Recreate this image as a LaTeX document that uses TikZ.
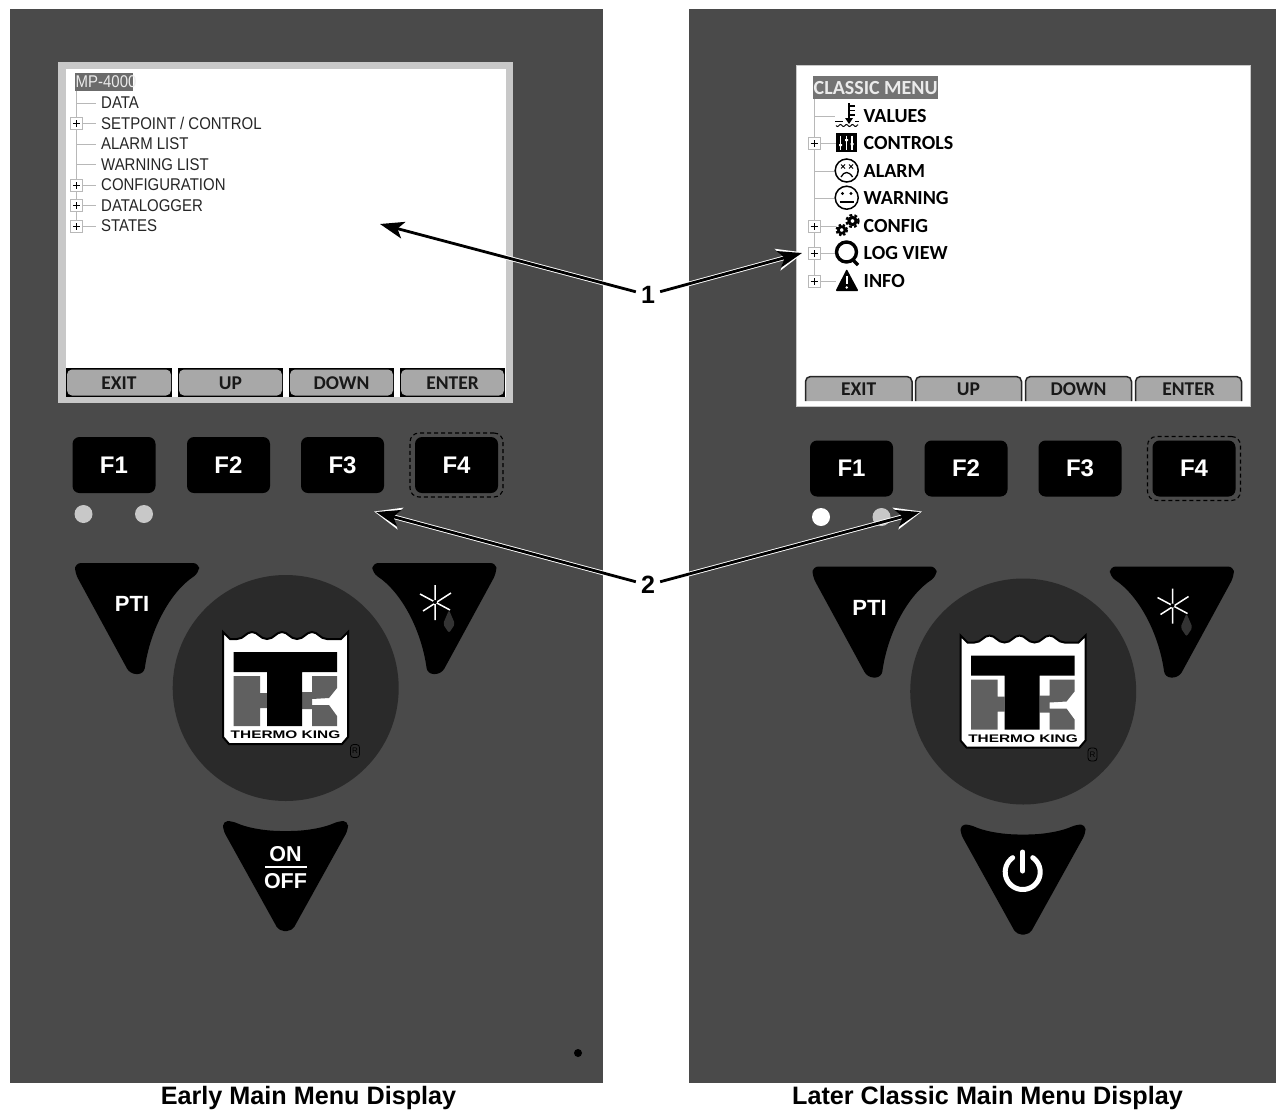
\documentclass[tikz,border=0pt]{standalone}
\usepackage{fontspec}
\setmainfont{Liberation Sans}
\newfontfamily\lcdfont[FakeStretch=0.88]{Liberation Sans}
\newfontfamily\menufont{Carlito}
\newfontfamily\logofont[FakeStretch=1.4]{Liberation Sans}
\usetikzlibrary{calc,arrows.meta}
\definecolor{panelgray}{HTML}{4A4A4A}
\definecolor{hubgray}{HTML}{2A2A2A}
\definecolor{framegray}{HTML}{C8C8C8}
\definecolor{softgray}{HTML}{A8A8A8}
\definecolor{treegray}{HTML}{B8B8B8}
\definecolor{logogray}{HTML}{606060}

\tikzset{
  fkey/.style={fill=black,text=white,rounded corners=7pt,minimum width=83pt,minimum height=56pt,inner sep=0pt,font=\bfseries\fontsize{24}{24}\selectfont},
  keytxt/.style={text=white,inner sep=0pt,font=\bfseries\fontsize{22}{22}\selectfont},
  lcdtxt/.style={anchor=west,inner sep=0pt,text=black!85,font=\lcdfont\fontsize{17}{17}\selectfont},
  menutxt/.style={anchor=west,inner sep=0pt,text=black,font=\menufont\bfseries\fontsize{20}{20}\selectfont},
  softtxt/.style={inner sep=0pt,text=black!90,font=\menufont\bfseries\fontsize{19.5}{19.5}\selectfont},
  plusbox/.style={draw=treegray,fill=white,line width=1pt,minimum size=12pt,inner sep=0pt,
    path picture={\draw[black,line width=.7pt] ($(path picture bounding box.center)+(-3.5pt,0)$) -- ($(path picture bounding box.center)+(3.5pt,0)$) ($(path picture bounding box.center)+(0,-3.5pt)$) -- ($(path picture bounding box.center)+(0,3.5pt)$);}},
  treeline/.style={treegray,line width=1pt},
  halo/.style={white,line width=4.6pt,-{Stealth[length=27pt,width=22pt,inset=7pt]},shorten >=-2pt},
  leader/.style={black,line width=2.8pt,-{Stealth[length=24pt,width=17pt,inset=6pt]}},
  numtxt/.style={inner sep=5pt,font=\bfseries\fontsize{25}{25}\selectfont},
  captiontxt/.style={inner sep=0pt,font=\bfseries\fontsize{25.2}{25.2}\selectfont}
}

\begin{document}
\begin{tikzpicture}[>=Stealth,x=1pt,y=-1pt]
  \useasboundingbox (0,0) rectangle (1276,1109);

  % Wedge key, PTI position
  \def\WedgeKey{\fill[black,rounded corners=6pt] (75,563) -- (199,563) -- (199,573) .. controls (170,592) and (150,630) .. (144,674) -- (130,674) -- (75,573) -- cycle;}

  % Keys and logo, drawn at the left panel's place
  \def\KeyPad#1{
    \node[fkey] (#1F1) at (114,465) {F1};
    \node[fkey] (#1F2) at (228.5,465) {F2};
    \node[fkey] (#1F3) at (342.5,465) {F3};
    \node[fkey] (#1F4) at (456.5,465) {F4};
    \node[draw=black,dash pattern=on 4pt off 3pt,rounded corners=9pt,line width=1.1pt,minimum width=93pt,minimum height=64pt] (#1F4box) at (456.5,465) {};
    % Hub and wedges
    \fill[hubgray] (285.7,688) circle[radius=113];
    \WedgeKey
    \begin{scope}[shift={(571.4,0)},xscale=-1]
      \WedgeKey
    \end{scope}
    \fill[black,rounded corners=5pt] (223,821) -- (232,821) .. controls (250,829) and (270,831) .. (285.5,831) .. controls (301,831) and (321,829) .. (339,821) -- (348,821) -- (348,830) -- (292,931) -- (279,931) -- (223,830) -- cycle;
    \node[keytxt] (#1PTI) at (132,604) {PTI};
    % Star and drop
    \draw[white,line width=1.5pt] (435,585) -- (435,620) (420,594) -- (450,610) (423,611) -- (451,593);
    \fill[black] (435,602) circle[radius=2];
    \fill[black!80,rounded corners=2pt] (449,610) -- (455,624) -- (449,633) -- (443,624) -- cycle;
    % Logo
    \draw[black,fill=white,line width=2pt] (223,632) -- (230,639) -- (237,639) .. controls (244,639) and (246,632) .. (252,632) .. controls (258,632) and (260,639) .. (267,639) .. controls (274,639) and (276,632) .. (282,632) .. controls (288,632) and (290,639) .. (297,639) .. controls (304,639) and (306,632) .. (312,632) .. controls (318,632) and (320,639) .. (327,639) -- (341,639) -- (348,632) -- (348,737) -- (342,744) -- (229,744) -- (223,737) -- cycle;
    \fill[logogray] (233.5,676) rectangle (260,726) (260,693) rectangle (267,708);
    \fill[logogray] (312,676) -- (337,676) -- (337,688) -- (329,698) -- (312,699) -- (312,705) -- (329,705) -- (337,716) -- (337,726) -- (312,726) -- (312,709) -- (302,709) -- (302,692) -- (312,692) -- cycle;
    \fill[black] (233.5,652) rectangle (337,672) (267,672) rectangle (302,726);
    \node[inner sep=0pt,font=\logofont\bfseries\fontsize{11}{11}\selectfont] (#1brand) at (285.5,735) {THERMO KING};
    \node[draw=black,rounded corners=3pt,line width=.8pt,inner sep=1pt,minimum width=9pt,minimum height=13pt,font=\fontsize{8}{8}\selectfont,text=black] (#1reg) at (355,751) {R};
  }

  % Panels
  \fill[panelgray] (10,9) rectangle (603,1083);
  \fill[panelgray] (689,9) rectangle (1276,1083);
  \fill[black] (578,1053) circle[radius=4];

  % Left panel
  \KeyPad{a}
  \fill[framegray] (83.5,514) circle[radius=9];
  \fill[framegray] (144,514) circle[radius=9];
  \node[keytxt,font=\bfseries\fontsize{21.5}{21.5}\selectfont] (aon) at (285.5,854) {ON};
  \node[keytxt,font=\bfseries\fontsize{21.5}{21.5}\selectfont] (aoff) at (285.5,881) {OFF};
  \draw[white,line width=2pt] (265,867) -- (307,867);

  % Left screen
  \fill[framegray] (58,62) rectangle (513,403);
  \fill[white] (66,69) rectangle (505.5,397);
  \draw[treeline] (76.7,91) -- (76.7,226);
  \node[fill=black!58,inner sep=0pt,minimum width=58pt,minimum height=18pt] (atop) at (104,82) {};
  \node[lcdtxt,text=black!8] (atoptxt) at (75.5,82) {MP-4000};
  \foreach \txt/\yy [count=\i] in {DATA/103,{SETPOINT / CONTROL}/123.5,ALARM LIST/144,WARNING LIST/164.5,CONFIGURATION/185,DATALOGGER/205.5,STATES/226} {
    \draw[treeline] (76.7,\yy) -- (96,\yy);
    \node[lcdtxt] (arow\i) at (101,\yy) {\txt};
  }
  \foreach \yy [count=\i] in {123.5,185,205.5,226} {
    \node[plusbox] (abox\i) at (76.7,\yy) {};
  }
  \foreach \txt/\xa/\xb [count=\i] in {EXIT/66/172,UP/178/283,DOWN/289/394,ENTER/400/505} {
    \fill[black] (\xa,368) rectangle (\xb,397);
    \fill[softgray,rounded corners=5pt] ({\xa+1},369.5) rectangle ({\xb-1},395.5);
    \node[softtxt] (asoft\i) at ({(\xa+\xb)/2},383) {\txt};
  }

  % Right panel
  \begin{scope}[shift={(737.5,3.5)}]
    \KeyPad{b}
  \end{scope}
  \fill[white] (821,517) circle[radius=9];
  \fill[framegray] (881.5,517) circle[radius=9];
  \draw[white,line width=5pt,line cap=round] plot[domain=35:325,samples=40] ({1022.7+17.5*sin(\x)},{872-17.5*cos(\x)});
  \draw[white,line width=5pt,line cap=round] (1022.7,852) -- (1022.7,871);

  % Right screen
  \draw[framegray,fill=white,line width=1pt] (796,65) rectangle (1250,406);
  \draw[treeline] (814,99) -- (814,281);
  \node[fill=black!55,inner sep=0pt,minimum width=125pt,minimum height=23pt] (btop) at (875.5,87.5) {};
  \node[menutxt,text=black!8] (btoptxt) at (813.5,88) {CLASSIC MENU};
  \foreach \txt/\yy [count=\i] in {VALUES/116,CONTROLS/143.5,ALARM/171,WARNING/198.5,CONFIG/226,LOG VIEW/253.5,INFO/281} {
    \draw[treeline] (814,\yy) -- (836,\yy);
    \node[menutxt] (brow\i) at (863.5,\yy) {\txt};
  }
  \foreach \yy [count=\i] in {143.5,226,253.5,281} {
    \node[plusbox] (bbox\i) at (814,\yy) {};
  }
  \foreach \txt/\xa/\xb [count=\i] in {EXIT/805.5/912,UP/915.5/1021.5,DOWN/1025.5/1131.5,ENTER/1135.5/1241.5} {
    \draw[black!85,fill=softgray,line width=1.5pt,rounded corners=5pt] (\xa,401) -- (\xa,376.5) -- (\xb,376.5) -- (\xb,401);
    \node[softtxt] (bsoft\i) at ({(\xa+\xb)/2},389) {\txt};
  }

  % Menu icons
  % values
  \fill[white] (835,103) rectangle (859,128);
  \draw[black,line width=2.4pt] (849,103) -- (849,120);
  \draw[black,line width=1.2pt] (849,106) -- (855,106) (849,110.5) -- (855,110.5) (849,115) -- (855,115);
  \fill[black] (845,118) -- (853,118) -- (849,124) -- cycle;
  \draw[black,line width=1pt] (835,121.5) -- (843,121.5) (855,121.5) -- (859,121.5);
  \draw[black,line width=1pt] plot[domain=0:22,samples=30] ({836+\x},{125.5+sin(\x*60)});
  % controls
  \fill[black] (835.5,133) rectangle (857,152);
  \draw[white,line width=1.3pt] (840.5,135.5) -- (840.5,149.5) (846.5,135.5) -- (846.5,149.5) (852,135.5) -- (852,149.5);
  \fill[white] (839,144) rectangle (842,146) (845,139) rectangle (848,141) (850.5,143) rectangle (853.5,145);
  % alarm
  \draw[black,fill=white,line width=1.5pt] (846.7,170.5) circle[radius=11.5];
  \draw[black,line width=.9pt] (841,164.5) -- (845,168.5) (845,164.5) -- (841,168.5) (849,164.5) -- (853,168.5) (853,164.5) -- (849,168.5);
  \draw[black,line width=1.3pt] (841,177) .. controls (844,171) and (849,171) .. (852.5,177);
  % warning
  \draw[black,fill=white,line width=1.5pt] (846.7,197.7) circle[radius=11.5];
  \fill[black] (842.5,193.5) circle[radius=1.7] (851,193.5) circle[radius=1.7];
  \draw[black,line width=1.7pt] (839.5,202) -- (854,202);
  % config
  \draw[black,line width=2pt,dash pattern=on 2.4pt off 2pt] (841.7,230) circle[radius=5.5];
  \draw[black,fill=white,line width=2.6pt] (841.7,230) circle[radius=3.3];
  \draw[black,line width=2.2pt,dash pattern=on 2.8pt off 2.2pt] (852.5,221) circle[radius=6];
  \draw[black,fill=white,line width=3pt] (852.5,221) circle[radius=3.6];
  % log view
  \draw[black,fill=white,line width=3.4pt] (846.5,252) circle[radius=10];
  \draw[black,line width=3.4pt] (853,260) -- (858,265);
  % info
  \fill[black,rounded corners=1pt] (846.7,269) -- (858.5,291) -- (835.5,291) -- cycle;
  \draw[white,line width=2pt] (846.7,276) -- (846.7,284);
  \fill[white] (846.7,287.5) circle[radius=1.3];

  % Callouts
  \node[numtxt] (num1) at (648,295) {1};
  \node[numtxt] (num2) at (648,585) {2};
  \coordinate (tipA) at (380,224);
  \coordinate (tipB) at (802,253);
  \coordinate (tipC) at (376,512);
  \coordinate (tipD) at (920,512);
  \foreach \from/\to in {num1/tipA,num1/tipB,num2/tipC,num2/tipD} {
    \draw[halo] (\from) -- (\to);
  }
  \foreach \from/\to in {num1/tipA,num1/tipB,num2/tipC,num2/tipD} {
    \draw[leader] (\from) -- (\to);
  }

  % Captions
  \node[captiontxt] (capL) at (308.5,1097.5) {Early Main Menu Display};
  \node[captiontxt] (capR) at (987.5,1097.5) {Later Classic Main Menu Display};
\end{tikzpicture}
\end{document}
